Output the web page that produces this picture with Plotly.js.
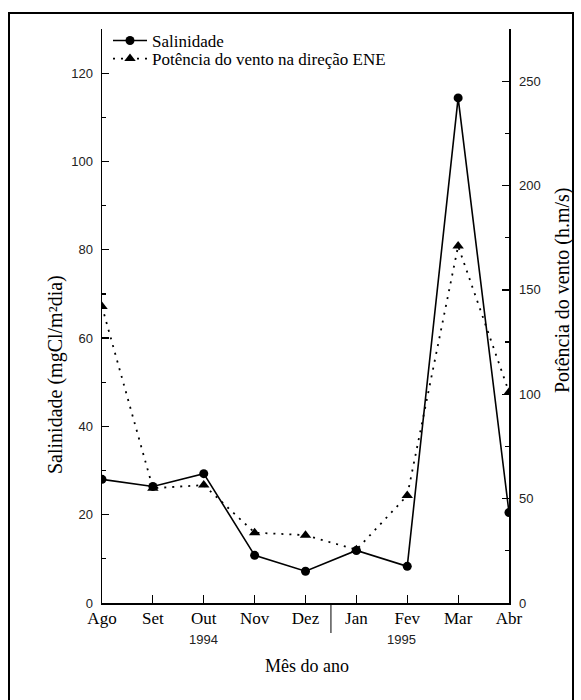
<!DOCTYPE html>
<html>
<head>
<meta charset="utf-8">
<script src="https://cdn.plot.ly/plotly-3.0.1.min.js"></script>
<style>html,body{margin:0;padding:0;background:#fff;}#chart{width:581px;height:700px;}</style>
</head>
<body>
<div id="chart"></div>
<script>
// Data
const months = ["Ago", "Set", "Out", "Nov", "Dez", "Jan", "Fev", "Mar", "Abr"];
const salinidade = [28.0, 26.4, 29.3, 10.8, 7.2, 11.9, 8.3, 114.4, 20.5];   // mgCl/m²dia (left axis)
const ventoENE = [142, 55, 56.5, 33.7, 32.5, 25.5, 51.5, 171, 101];          // h.m/s (right axis)
const yearLabels = ["1994", "1995"];
const seriesNames = ["Salinidade", "Potência do vento na direção ENE"];

// Layout geometry (pixels)
const W = 581, H = 700;
const L = 102, R = 509, T = 29, B = 603;
const plotH = B - T;
const py = p => (B - p) / plotH;           // pixel y -> paper y
const px = p => (p - L) / (R - L);         // pixel x -> paper x

const serif = "Liberation Serif, Times New Roman, serif";
const sans = "Liberation Sans, Arial, sans-serif";

const traces = [
  {
    x: months, y: salinidade, name: seriesNames[0], type: "scatter", mode: "lines+markers",
    line: {color: "#000", width: 1.6}, marker: {symbol: "circle", size: 9, color: "#000"},
    yaxis: "y", legend: "legend"
  },
  {
    x: months, y: ventoENE, name: seriesNames[1], type: "scatter", mode: "lines+markers",
    line: {color: "#000", width: 1.8, dash: "2px,6px"}, marker: {symbol: "triangle-up", size: 10, color: "#000"},
    yaxis: "y2", legend: "legend2"
  }
];

const legendBase = {
  x: px(108), xanchor: "left", yanchor: "middle",
  font: {family: serif, size: 17, color: "#000"},
  bgcolor: "rgba(0,0,0,0)", borderwidth: 0, itemwidth: 34
};

const layout = {
  width: W, height: H,
  margin: {l: L, r: W - R, t: T, b: H - B, pad: 0},
  paper_bgcolor: "#fff", plot_bgcolor: "#fff",
  showlegend: true,
  legend: Object.assign({}, legendBase, {y: py(41)}),
  legend2: Object.assign({}, legendBase, {y: py(59)}),
  xaxis: {
    type: "category", categoryorder: "array", categoryarray: months,
    range: [0, 8], showgrid: false, zeroline: false,
    showline: true, linecolor: "#000", linewidth: 1.5,
    ticks: "inside", ticklen: 8, tickcolor: "#000", tickwidth: 1.2,
    tickfont: {family: serif, size: 17, color: "#000"}, ticklabelstandoff: -1
  },
  yaxis: {
    range: [0, 130], tick0: 0, dtick: 20, showgrid: false, zeroline: false,
    showline: true, linecolor: "#000", linewidth: 1.5,
    ticks: "inside", ticklen: 7, tickcolor: "#000", tickwidth: 1.2,
    minor: {dtick: 10, ticks: "inside", ticklen: 4, tickcolor: "#000", tickwidth: 1.2, showgrid: false},
    tickfont: {family: sans, size: 13, color: "#222"}, ticklabelstandoff: 5
  },
  yaxis2: {
    overlaying: "y", side: "right",
    range: [0, 275], tick0: 0, dtick: 50, showgrid: false, zeroline: false,
    showline: true, linecolor: "#000", linewidth: 1.5,
    ticks: "inside", ticklen: 7, tickcolor: "#000", tickwidth: 1.2,
    minor: {dtick: 25, ticks: "inside", ticklen: 4, tickcolor: "#000", tickwidth: 1.2, showgrid: false},
    tickfont: {family: sans, size: 13, color: "#222"}, ticklabelstandoff: 6
  },
  annotations: [
    {text: "Salinidade (mgCl/m²dia)", xref: "paper", yref: "paper", x: px(56), y: py(375),
     xanchor: "center", yanchor: "middle",
     textangle: -90, showarrow: false, font: {family: serif, size: 20, color: "#000"}},
    {text: "Potência do vento (h.m/s)", xref: "paper", yref: "paper", x: px(562), y: py(290),
     xanchor: "center", yanchor: "middle",
     textangle: -90, showarrow: false, font: {family: serif, size: 20, color: "#000"}},
    {text: "Mês do ano", xref: "paper", yref: "paper", x: px(307), y: py(666),
     xanchor: "center", yanchor: "middle",
     showarrow: false, font: {family: serif, size: 18, color: "#000"}},
    {text: yearLabels[0], xref: "x", yref: "paper", x: 2, y: py(639),
     xanchor: "center", yanchor: "middle",
     showarrow: false, font: {family: sans, size: 13, color: "#222"}},
    {text: yearLabels[1], xref: "x", yref: "paper", x: 5.88, y: py(639),
     xanchor: "center", yanchor: "middle",
     showarrow: false, font: {family: sans, size: 13, color: "#222"}}
  ],
  shapes: [
    {type: "line", xref: "x", yref: "paper", x0: 4.5, x1: 4.5, y0: 0, y1: py(633),
     line: {color: "#000", width: 1}},
    {type: "rect", xref: "paper", yref: "paper", x0: px(9), x1: px(573), y0: py(705), y1: py(13),
     line: {color: "#000", width: 2}, fillcolor: "rgba(0,0,0,0)", layer: "below"}
  ]
};

Plotly.newPlot("chart", traces, layout, {staticPlot: true, displayModeBar: false});
</script>
</body>
</html>
